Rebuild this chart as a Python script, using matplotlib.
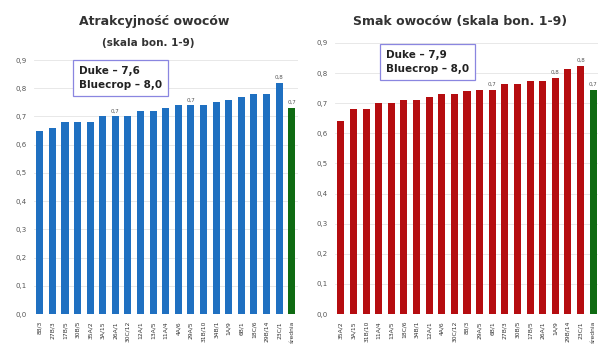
import matplotlib
matplotlib.use("Agg")
import matplotlib.pyplot as plt
import numpy as np

plt.rcParams['font.family'] = ['DejaVu Sans']

# data
# ----
labels_atr = ['88/3', '27B/3', '17B/5', '30B/5', '35A/2', '3A/15', '26A/1', '30C/12', '12A/1', '13A/5',
              '11A/4', '4A/6', '29A/5', '31B/10', '34B/1', '1A/9', '6B/1', '18C/6', '29B/14', '23C/1', 'średnia']
values_atr = [0.65, 0.66, 0.68, 0.68, 0.68, 0.70, 0.70, 0.70, 0.72, 0.72,
              0.73, 0.74, 0.74, 0.74, 0.75, 0.76, 0.77, 0.78, 0.78, 0.82, 0.73]
shown_atr = [6, 12, 19, 20]  # bars with value labels

labels_smak = ['35A/2', '3A/15', '31B/10', '11A/4', '13A/5', '18C/6', '34B/1', '12A/1', '4A/6', '30C/12',
               '88/3', '29A/5', '6B/1', '27B/3', '30B/5', '17B/5', '26A/1', '1A/9', '29B/14', '23C/1', 'średnia']
values_smak = [0.64, 0.68, 0.68, 0.70, 0.70, 0.71, 0.71, 0.72, 0.73, 0.73,
               0.74, 0.745, 0.745, 0.765, 0.765, 0.775, 0.775, 0.785, 0.815, 0.825, 0.745]
shown_smak = [12, 17, 19, 20]

yticks = [0.0, 0.1, 0.2, 0.3, 0.4, 0.5, 0.6, 0.7, 0.8, 0.9]


def fmt(v, nd=1):
    return f"{v:.{nd}f}".replace('.', ',')


def draw(ax, labels, values, shown, color):
    x = np.arange(len(values))
    colors = [color] * (len(values) - 1) + ['#0f6b12']
    ax.bar(x, values, width=0.56, color=colors, zorder=2)
    for i in shown:
        ax.text(x[i], values[i] + 0.01, fmt(values[i]), ha='center', va='bottom',
                fontsize=4, color='#555555')
    ax.set_xlim(-0.5, len(values) - 0.5)
    ax.set_ylim(0, 0.9)
    ax.set_yticks(yticks)
    ax.set_yticklabels([fmt(t) for t in yticks], fontsize=5, color='#555555')
    ax.set_xticks(x)
    ax.set_xticklabels(labels, rotation=90, fontsize=4.3, color='#333333')
    ax.tick_params(length=0, pad=5)
    ax.grid(axis='y', color='#e4e4e4', linewidth=0.6, zorder=0)
    for s in ax.spines.values():
        s.set_visible(False)


fig = plt.figure(figsize=(5.98, 3.56), dpi=100)

ax1 = fig.add_axes([33.5 / 598, 1 - 314 / 356, 264.5 / 598, 254 / 356])
draw(ax1, labels_atr, values_atr, shown_atr, '#1f70c1')

ax2 = fig.add_axes([334.5 / 598, 1 - 314 / 356, 265 / 598, 271 / 356])
draw(ax2, labels_smak, values_smak, shown_smak, '#b50d10')

# titles
fig.text(154 / 598, 1 - 22 / 356, 'Atrakcyjność owoców', ha='center', va='center',
         fontsize=9, fontweight='bold', color='#333333')
fig.text(148 / 598, 1 - 43 / 356, '(skala bon. 1-9)', ha='center', va='center',
         fontsize=7.5, fontweight='bold', color='#333333')
fig.text(460 / 598, 1 - 22 / 356, 'Smak owoców (skala bon. 1-9)', ha='center', va='center',
         fontsize=9, fontweight='bold', color='#333333')

# boxes
box = dict(boxstyle='square,pad=0.6', facecolor='white', edgecolor='#8a86e0', linewidth=0.9)
fig.text(79 / 598, 1 - 78 / 356, 'Duke – 7,6\nBluecrop – 8,0', ha='left', va='center',
         fontsize=7.5, fontweight='bold', color='#222222', linespacing=1.45, bbox=box)
fig.text(386 / 598, 1 - 62 / 356, 'Duke – 7,9\nBluecrop – 8,0', ha='left', va='center',
         fontsize=7.5, fontweight='bold', color='#222222', linespacing=1.45, bbox=box)

fig.savefig('out.png', dpi=100)
